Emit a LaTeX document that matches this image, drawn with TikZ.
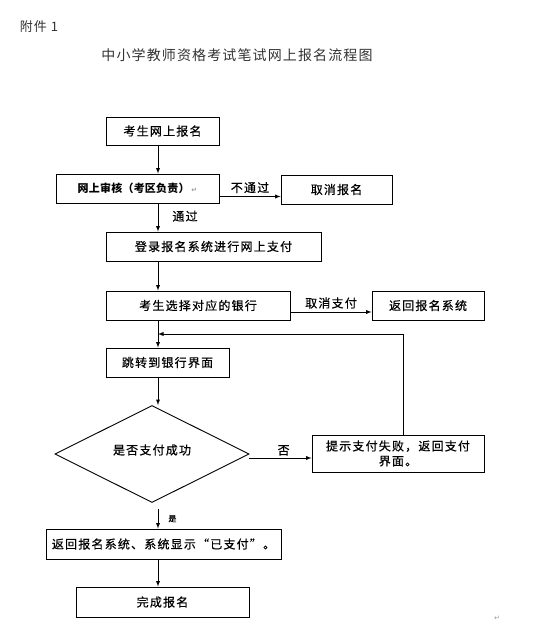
\documentclass[tikz,border=0pt]{standalone}
\usepackage{fontspec}
\setmainfont{Noto Sans CJK SC}
\newfontfamily\cjk[LetterSpace=10, FakeBold=0.5]{Noto Sans CJK SC}
\newfontfamily\cjkbold[LetterSpace=2]{Noto Sans CJK SC}
\newfontfamily\cjktitle[LetterSpace=8]{Noto Sans CJK SC}
\newfontfamily\symb{DejaVu Sans}
\usetikzlibrary{shapes.geometric, calc}

\tikzset{
  box/.style={draw, line width=0.9pt, inner sep=0pt, align=center, font=\cjk\fontsize{12}{15}\selectfont},
  lab/.style={font=\cjk\fontsize{12}{14}\selectfont, inner sep=0pt},
  pmark/.style={text=black!40, font=\symb\fontsize{7}{8}\selectfont, inner sep=0pt}
}

\begin{document}
\begin{tikzpicture}[x=1pt, y=-1pt, line width=0.9pt]
  \useasboundingbox (0,0) rectangle (552,639);
  \node[font=\cjktitle\fontsize{13}{15}\selectfont, text=black!80, anchor=west] (att) at (16,27) {附件 1};
  \node[font=\cjktitle\fontsize{14}{16}\selectfont, text=black!80] (title) at (237,55) {中小学教师资格考试笔试网上报名流程图};

  \coordinate (stem) at (158,0);
  \coordinate (fb) at (403,334);

  \node[box, minimum width=113, minimum height=28] (sign) at (162.5,131) {考生网上报名};
  \node[box, minimum width=163, minimum height=29, font=\cjkbold\fontsize{11}{13}\selectfont\bfseries] (audit) at (137.5,188.5) {网上审核（考区负责）\,{\symb\fontsize{7}{8}\selectfont\color{black!40}↵}};
  \node[box, minimum width=111, minimum height=29] (cancel) at (336.5,189.5) {取消报名};
  \node[box, minimum width=215, minimum height=29] (login) at (213.5,246.5) {登录报名系统进行网上支付};
  \node[box, minimum width=184, minimum height=29] (bank) at (198,305.5) {考生选择对应的银行};
  \node[box, minimum width=112, minimum height=29] (back) at (428,305.5) {返回报名系统};
  \node[box, minimum width=123, minimum height=29] (jump) at (167.5,362.5) {跳转到银行界面};
  \node[box, diamond, minimum width=194, minimum height=95] (ok) at (152,454) {\raisebox{9pt}{是否支付成功}};
  \node[box, minimum width=172, minimum height=37] (fail) at (398,453.5) {提示支付失败，返回支付\\界面。};
  \node[box, minimum width=235, minimum height=30] (ret) at (163.5,544) {返回报名系统、系统显示“已支付”。};
  \node[box, minimum width=173, minimum height=30] (done) at (162.5,602) {完成报名};
  \node[pmark] (pm) at (497,618) {↵};

  \draw[-latex] (sign.south -| stem) -- (audit.north -| stem);
  \draw[-latex] ([yshift=-8pt]audit.east) -- ([yshift=-8pt]audit.east -| cancel.west) node[lab, midway, above=3pt] {不通过};
  \draw[-latex] (audit.south -| stem) -- (login.north -| stem) node[lab, pos=0.45, right=14pt] {通过};
  \draw[-latex] (login.south -| stem) -- (bank.north -| stem);
  \draw[-latex] ([yshift=-6.5pt]bank.east) -- ([yshift=-6.5pt]bank.east -| back.west) node[lab, midway, above=3pt] {取消支付};
  \draw[-latex] (bank.south -| stem) -- (jump.north -| stem);
  \draw[-latex] (fail.north -| fb) -- (fb) -- (fb -| stem);
  \draw[-latex] (jump.south -| stem) -- (ok.north -| stem);
  \draw[-latex] ([yshift=-4pt]ok.east) -- ([yshift=-4pt]ok.east -| fail.west) node[lab, pos=0.55, above=2pt] {否};
  \draw[-latex] ([yshift=-6pt]ok.south -| stem) -- (ret.north -| stem) node[lab, midway, right=10pt, font=\cjk\fontsize{8}{9}\selectfont] {是};
  \draw[-latex] (ret.south -| stem) -- (done.north -| stem);
\end{tikzpicture}
\end{document}
